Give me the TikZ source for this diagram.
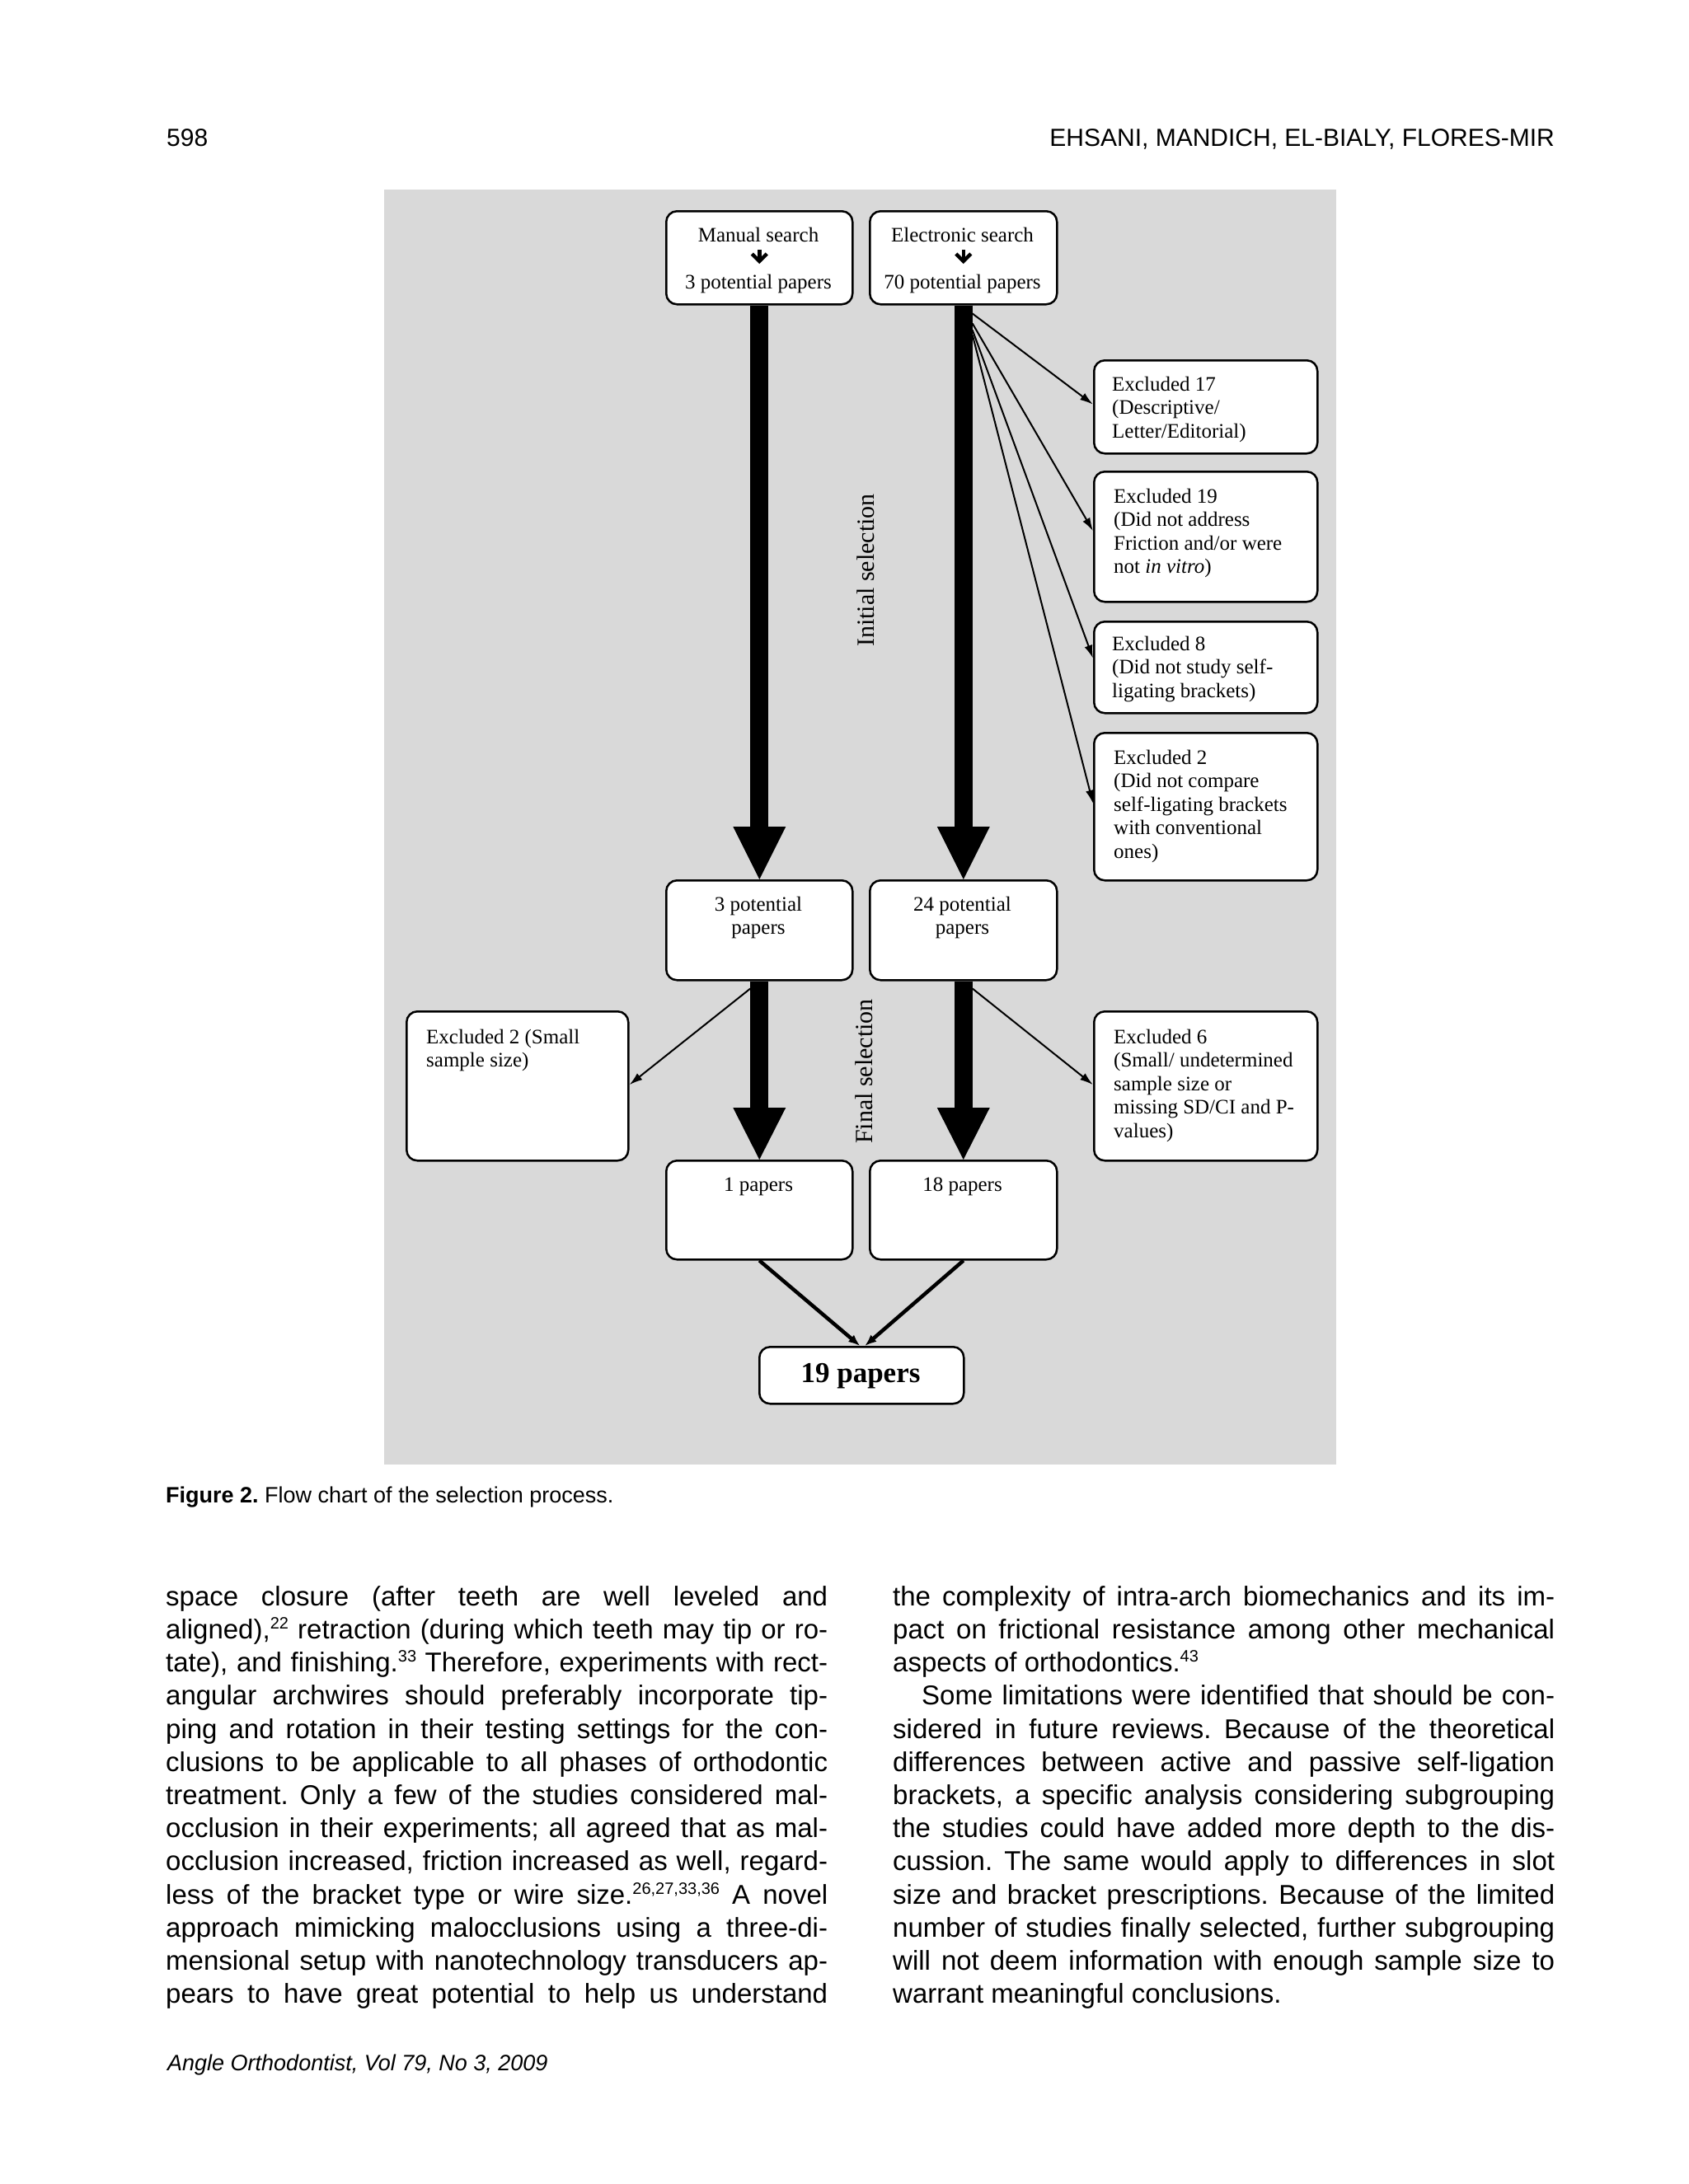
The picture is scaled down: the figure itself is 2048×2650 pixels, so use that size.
\documentclass[tikz,border=0pt]{standalone}
\usepackage{fontspec}
\setmainfont{Liberation Serif}
\newfontfamily\pagesans{Liberation Sans}
\usetikzlibrary{arrows.meta,calc}
\definecolor{panelgray}{RGB}{217,217,217}
\newcommand{\bodyjust}[1]{\makebox[803pt][s]{#1}}
\newcommand{\bodyflush}[1]{\makebox[803pt][l]{#1}}
\newcommand{\boxstrut}{\rule{0pt}{19pt}}
\newcommand{\colstrut}{\rule{0pt}{25pt}}
\newcommand{\supnum}[1]{\raisebox{12pt}{\fontsize{20}{20}\selectfont #1}}
\frenchspacing
\begin{document}
\begin{tikzpicture}[x=1pt,y=1pt,
  box/.style={draw=black, line width=2.5pt, fill=white, rounded corners=13pt, anchor=north west, inner sep=0pt},
  serif25/.style={font=\fontsize{25}{28.5}\selectfont, inner sep=0pt},
  ltxt/.style={serif25, align=left, anchor=north west},
  ctxt/.style={serif25, align=center, anchor=north},
  btxt/.style={serif25, anchor=base},
  sidelabel/.style={font=\fontsize{30}{34}\selectfont, inner sep=0pt, rotate=90, anchor=base},
  thinarrow/.style={line width=2pt, -{Latex[length=16pt,width=10pt]}},
  convarrow/.style={line width=4.5pt, -{Latex[length=14pt,width=11pt]}},
  bodycol/.style={font=\pagesans\frenchspacing\fontsize{33}{40.2}\selectfont, inner sep=0pt, align=left, anchor=north west},
  pagesmall/.style={font=\pagesans\frenchspacing\fontsize{27}{30}\selectfont, inner sep=0pt},
  glypharrow/.style={line width=4.5pt}
]
\useasboundingbox (0,0) rectangle (2048,-2650);
\fill[white] (0,0) rectangle (2048,-2650);

% header
\node[font=\pagesans\fontsize{30}{34}\selectfont, inner sep=0pt, anchor=base west] (pagenum) at (202,-177) {598};
\node[font=\pagesans\fontsize{30}{34}\selectfont, inner sep=0pt, anchor=base east] (runhead) at (1886,-177) {EHSANI, MANDICH, EL-BIALY, FLORES-MIR};

% panel
\fill[panelgray] (466,-230) rectangle (1621,-1777);

% boxes
\node[box, minimum width=226pt, minimum height=113pt] (man) at (807,-255) {};
\node[box, minimum width=227pt, minimum height=113pt] (ele) at (1054,-255) {};
\node[box, minimum width=271pt, minimum height=113pt] (e17) at (1326,-436) {};
\node[box, minimum width=271pt, minimum height=158pt] (e19) at (1326,-571) {};
\node[box, minimum width=271pt, minimum height=111pt] (e8) at (1326,-753) {};
\node[box, minimum width=271pt, minimum height=179pt] (e2) at (1326,-888) {};
\node[box, minimum width=226pt, minimum height=121pt] (pot3) at (807,-1067) {};
\node[box, minimum width=227pt, minimum height=121pt] (pot24) at (1054,-1067) {};
\node[box, minimum width=269pt, minimum height=181pt] (exs) at (492,-1226) {};
\node[box, minimum width=271pt, minimum height=181pt] (e6) at (1326,-1226) {};
\node[box, minimum width=226pt, minimum height=120pt] (p1) at (807,-1407) {};
\node[box, minimum width=227pt, minimum height=120pt] (p18) at (1054,-1407) {};
\node[box, minimum width=248pt, minimum height=69pt] (p19) at (920,-1633) {};

% texts in boxes
\node[btxt] (manA) at (920,-293) {Manual search};
\node[btxt] (manB) at (920,-350) {3 potential papers};
\node[btxt] (eleA) at (1167.5,-293) {Electronic search};
\node[btxt] (eleB) at (1167.5,-350) {70 potential papers};
\node[ltxt] (t17) at (1349,-455) {\boxstrut Excluded 17\\(Descriptive/\\Letter/Editorial)};
\node[ltxt] (t19) at (1351,-591) {\boxstrut Excluded 19\\(Did not address\\Friction and/or were\\not \textit{in vitro})};
\node[ltxt] (t8) at (1349,-770) {\boxstrut Excluded 8\\(Did not study self-\\ligating brackets)};
\node[ltxt] (t2) at (1351,-908) {\boxstrut Excluded 2\\(Did not compare\\self-ligating brackets\\with conventional\\ones)};
\node[ctxt] (tpot3) at (920,-1086) {\boxstrut 3 potential\\papers};
\node[ctxt] (tpot24) at (1167.5,-1086) {\boxstrut 24 potential\\papers};
\node[ltxt] (texs) at (517,-1247) {\boxstrut Excluded 2 (Small\\sample size)};
\node[ltxt] (t6) at (1351,-1247) {\boxstrut Excluded 6\\(Small/ undetermined\\sample size or\\missing SD/CI and P-\\values)};
\node[btxt] (tp1) at (920,-1445) {1 papers};
\node[btxt] (tp18) at (1167.5,-1445) {18 papers};
\node[font=\bfseries\fontsize{35}{40}\selectfont, inner sep=0pt, anchor=base] (tp19) at (1044,-1677) {19 papers};

% small arrows inside search boxes
\draw[glypharrow] ($(man.north)+(0,-48)$) -- ($(man.north)+(0,-60)$);
\draw[glypharrow, line join=miter] ($(man.north)+(-9,-53)$) -- ($(man.north)+(0,-62)$) -- ($(man.north)+(9,-53)$);
\draw[glypharrow] ($(ele.north)+(0,-48)$) -- ($(ele.north)+(0,-60)$);
\draw[glypharrow, line join=miter] ($(ele.north)+(-9,-53)$) -- ($(ele.north)+(0,-62)$) -- ($(ele.north)+(9,-53)$);

% thick arrows stage 1
\fill ($(man.south)+(-11,0)$) rectangle ($(pot3.north)+(11,64)$);
\fill ($(pot3.north)+(-32,64)$) -- (pot3.north) -- ($(pot3.north)+(32,64)$) -- cycle;
\fill ($(ele.south)+(-11,0)$) rectangle ($(pot24.north)+(11,64)$);
\fill ($(pot24.north)+(-32,64)$) -- (pot24.north) -- ($(pot24.north)+(32,64)$) -- cycle;
% thick arrows stage 2
\fill ($(pot3.south)+(-11,0)$) rectangle ($(p1.north)+(11,63)$);
\fill ($(p1.north)+(-32,63)$) -- (p1.north) -- ($(p1.north)+(32,63)$) -- cycle;
\fill ($(pot24.south)+(-11,0)$) rectangle ($(p18.north)+(11,63)$);
\fill ($(p18.north)+(-32,63)$) -- (p18.north) -- ($(p18.north)+(32,63)$) -- cycle;

% thin exclusion arrows
\draw[thinarrow] ($(ele.south)+(11,-10)$) -- ($(e17.west)+(0,3)$);
\draw[thinarrow] ($(ele.south)+(11,-22)$) -- ($(e19.west)+(0,7)$);
\draw[thinarrow] ($(ele.south)+(11,-30)$) -- ($(e8.west)+(0,11)$);
\draw[thinarrow] ($(ele.south)+(11,-36)$) -- ($(e2.west)+(0,4)$);
\draw[thinarrow] ($(pot3.south)+(-11,-9)$) -- ($(exs.east)+(0,1.5)$);
\draw[thinarrow] ($(pot24.south)+(11,-9)$) -- ($(e6.west)+(0,1.5)$);

% converging arrows
\draw[convarrow] (p1.south) -- ($(p19.north)+(-2,0)$);
\draw[convarrow] (p18.south) -- ($(p19.north)+(4,0)$);

% side labels
\node[sidelabel] (initsel) at (1060,-692) {Initial selection};
\node[sidelabel] (finsel) at (1058,-1300) {Final selection};

% caption
\node[pagesmall, anchor=base west] (caption) at (201,-1823) {\textbf{Figure 2.} Flow chart of the selection process.};

% body text
\node[bodycol] (colL) at (201,-1923) {\colstrut\bodyjust{space closure (after teeth are well leveled and}\\
\bodyjust{aligned),\supnum{22} retraction (during which teeth may tip or ro-}\\
\bodyjust{tate), and finishing.\supnum{33} Therefore, experiments with rect-}\\
\bodyjust{angular archwires should preferably incorporate tip-}\\
\bodyjust{ping and rotation in their testing settings for the con-}\\
\bodyjust{clusions to be applicable to all phases of orthodontic}\\
\bodyjust{treatment. Only a few of the studies considered mal-}\\
\bodyjust{occlusion in their experiments; all agreed that as mal-}\\
\bodyjust{occlusion increased, friction increased as well, regard-}\\
\bodyjust{less of the bracket type or wire size.\supnum{26,27,33,36} A novel}\\
\bodyjust{approach mimicking malocclusions using a three-di-}\\
\bodyjust{mensional setup with nanotechnology transducers ap-}\\
\bodyjust{pears to have great potential to help us understand}};

\node[bodycol] (colR) at (1083,-1923) {\colstrut\bodyjust{the complexity of intra-arch biomechanics and its im-}\\
\bodyjust{pact on frictional resistance among other mechanical}\\
\bodyflush{aspects of orthodontics.\supnum{43}}\\
\bodyjust{\hspace*{35pt}Some limitations were identified that should be con-}\\
\bodyjust{sidered in future reviews. Because of the theoretical}\\
\bodyjust{differences between active and passive self-ligation}\\
\bodyjust{brackets, a specific analysis considering subgrouping}\\
\bodyjust{the studies could have added more depth to the dis-}\\
\bodyjust{cussion. The same would apply to differences in slot}\\
\bodyjust{size and bracket prescriptions. Because of the limited}\\
\bodyjust{number of studies finally selected, further subgrouping}\\
\bodyjust{will not deem information with enough sample size to}\\
\bodyflush{warrant meaningful conclusions.}};

% footer
\node[font=\pagesans\itshape\fontsize{27}{30}\selectfont, inner sep=0pt, anchor=base west] (footer) at (203,-2512) {Angle Orthodontist, Vol 79, No 3, 2009};
\end{tikzpicture}
\end{document}
